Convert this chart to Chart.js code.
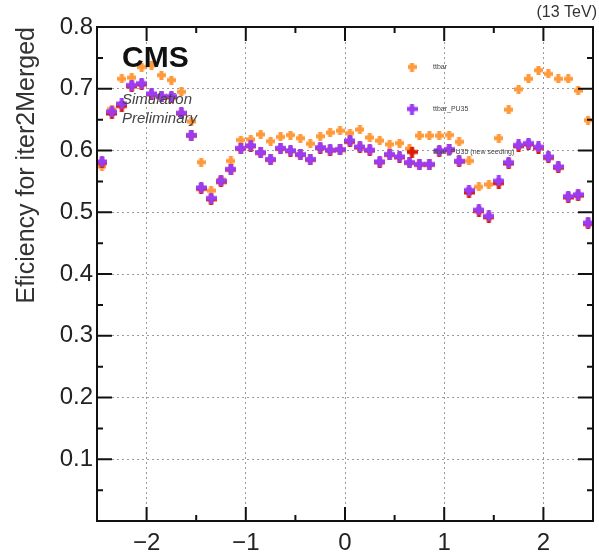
<!DOCTYPE html>
<html>
<head>
<meta charset="utf-8">
<script src="https://cdn.jsdelivr.net/npm/chart.js@4.4.1/dist/chart.umd.min.js"></script>
<style>
  html, body { margin: 0; padding: 0; background: #fff; }
  #wrap { width: 599px; height: 556px; }
</style>
</head>
<body>
<div id="wrap"><canvas id="chart" width="599" height="556"></canvas></div>
<script>
// bin centres in eta
const etaBins = [
  -2.45, -2.35, -2.25, -2.15, -2.05, -1.95, -1.85, -1.75, -1.65, -1.55,
  -1.45, -1.35, -1.25, -1.15, -1.05, -0.95, -0.85, -0.75, -0.65, -0.55,
  -0.45, -0.35, -0.25, -0.15, -0.05, 0.05, 0.15, 0.25, 0.35, 0.45,
  0.55, 0.65, 0.75, 0.85, 0.95, 1.05, 1.15, 1.25, 1.35, 1.45,
  1.55, 1.65, 1.75, 1.85, 1.95, 2.05, 2.15, 2.25, 2.35, 2.45
];

const effOrange = [
  0.574, 0.667, 0.716, 0.718, 0.735, 0.738, 0.722, 0.714, 0.695, 0.647,
  0.581, 0.535, 0.553, 0.583, 0.617, 0.618, 0.626, 0.615, 0.622, 0.625,
  0.620, 0.611, 0.623, 0.629, 0.632, 0.628, 0.634, 0.621, 0.616, 0.610,
  0.612, 0.603, 0.624, 0.624, 0.624, 0.625, 0.614, 0.583, 0.541, 0.545,
  0.620, 0.666, 0.699, 0.716, 0.730, 0.724, 0.716, 0.716, 0.697, 0.649
];

const effPurple = [
  0.582, 0.663, 0.676, 0.706, 0.709, 0.692, 0.688, 0.688, 0.661, 0.625,
  0.540, 0.523, 0.551, 0.570, 0.604, 0.608, 0.597, 0.586, 0.604, 0.600,
  0.594, 0.586, 0.605, 0.601, 0.602, 0.616, 0.606, 0.601, 0.582, 0.594,
  0.590, 0.581, 0.578, 0.578, 0.600, 0.602, 0.583, 0.536, 0.504, 0.494,
  0.551, 0.581, 0.609, 0.612, 0.606, 0.590, 0.574, 0.526, 0.529, 0.483
];

// mostly hidden below the purple markers
const effRed = [
  0.580, 0.660, 0.672, 0.704, 0.707, 0.691, 0.687, 0.686, 0.660, 0.624,
  0.538, 0.521, 0.549, 0.569, 0.603, 0.607, 0.596, 0.585, 0.603, 0.599,
  0.593, 0.585, 0.604, 0.600, 0.601, 0.614, 0.605, 0.600, 0.581, 0.593,
  0.589, 0.580, 0.577, 0.577, 0.599, 0.601, 0.582, 0.532, 0.502, 0.492,
  0.547, 0.579, 0.607, 0.610, 0.604, 0.588, 0.572, 0.524, 0.527, 0.481
];

const legendLabels = ['ttbar', 'ttbar_PU35', 'ttbar_PU35 (new seeding)'];
const xTickValues = [-2, -1, 0, 1, 2];
const yTickValues = [0.1, 0.2, 0.3, 0.4, 0.5, 0.6, 0.7, 0.8];

const orange = '#ff9a3c';
const purple = '#9b3cf5';
const red = '#d81e05';

// ROOT style "full cross" marker
function crossMarker(color, size, arm) {
  const c = document.createElement('canvas');
  c.width = size; c.height = size;
  const g = c.getContext('2d');
  g.fillStyle = color;
  const o = (size - arm) / 2;
  g.fillRect(o, 0, arm, size);
  g.fillRect(0, o, size, arm);
  g.beginPath();
  g.moveTo(size / 2, 1); g.lineTo(size - 1, size / 2);
  g.lineTo(size / 2, size - 1); g.lineTo(1, size / 2);
  g.closePath();
  g.fill();
  return c;
}

const mkOrange = crossMarker(orange, 9, 4);
const mkPurple = crossMarker(purple, 11, 4);
const mkRed = crossMarker(red, 11, 4);

function toPoints(vals) {
  return etaBins.map((x, i) => ({ x: x, y: vals[i] }));
}

const font = 'Liberation Sans, Arial, Helvetica, sans-serif';

const rootFrame = {
  id: 'rootFrame',
  afterDraw(chart) {
    const { ctx, chartArea: a, scales: { x, y } } = chart;
    ctx.save();
    ctx.strokeStyle = '#111';
    ctx.lineWidth = 2;
    ctx.strokeRect(a.left, a.top, a.right - a.left, a.bottom - a.top);
    ctx.beginPath();
    for (let v = -2.5; v <= 2.5001; v += 0.5) {
      const px = x.getPixelForValue(v);
      const len = Math.abs(v - Math.round(v)) < 0.01 ? 14 : 6;
      ctx.moveTo(px, a.bottom); ctx.lineTo(px, a.bottom - len);
      ctx.moveTo(px, a.top); ctx.lineTo(px, a.top + len);
    }
    for (let k = 0; k <= 16; k++) {
      const v = k * 0.05;
      const py = y.getPixelForValue(v);
      const len = k % 2 === 0 ? 15 : 6;
      ctx.moveTo(a.left, py); ctx.lineTo(a.left + len, py);
      ctx.moveTo(a.right, py); ctx.lineTo(a.right - len, py);
    }
    ctx.stroke();
    ctx.restore();
  }
};

const labelsPlugin = {
  id: 'rootLabels',
  afterDraw(chart) {
    const { ctx, chartArea: a } = chart;
    ctx.save();
    ctx.fillStyle = '#111';
    ctx.textBaseline = 'middle';
    ctx.textAlign = 'left';
    ctx.font = 'bold 30px ' + font;
    ctx.fillText('CMS', a.left + 25, 59);
    ctx.fillStyle = '#444';
    ctx.font = 'italic 15px ' + font;
    ctx.fillText('Simulation', a.left + 25, 100);
    ctx.fillText('Preliminary', a.left + 25, 119);
    ctx.fillStyle = '#333';
    ctx.font = '16px ' + font;
    ctx.textAlign = 'right';
    ctx.fillText('(13 TeV)', 597, 13);

    // legend
    const marks = [mkOrange, mkPurple, mkRed];
    const rows = [67, 109, 152];
    ctx.textAlign = 'left';
    ctx.font = '7px ' + font;
    ctx.fillStyle = '#444';
    marks.forEach((m, i) => {
      ctx.drawImage(m, a.left + 315 - m.width / 2, rows[i] - m.height / 2);
      ctx.fillText(legendLabels[i], a.left + 336, rows[i]);
    });
    ctx.restore();
  }
};

new Chart(document.getElementById('chart'), {
  type: 'scatter',
  data: {
    // first dataset is drawn on top
    datasets: [
      { label: legendLabels[1], data: toPoints(effPurple), pointStyle: mkPurple, pointRadius: 5 },
      { label: legendLabels[2], data: toPoints(effRed), pointStyle: mkRed, pointRadius: 5 },
      { label: legendLabels[0], data: toPoints(effOrange), pointStyle: mkOrange, pointRadius: 4 }
    ]
  },
  options: {
    responsive: false,
    animation: false,
    devicePixelRatio: 1,
    layout: { padding: { top: 27, right: 2, left: 0, bottom: 0 } },
    plugins: { legend: { display: false }, tooltip: { enabled: false } },
    scales: {
      x: {
        type: 'linear',
        min: -2.5,
        max: 2.5,
        afterBuildTicks: s => { s.ticks = xTickValues.map(v => ({ value: v })); },
        afterFit: s => { s.height = 35; },
        grid: { color: '#9a9a9a', lineWidth: 1, drawTicks: false },
        border: { display: false, dash: [2, 3] },
        ticks: {
          padding: 8,
          color: '#222',
          font: { family: font, size: 24 },
          callback: v => (v < 0 ? '\u2212' + Math.abs(v) : String(v))
        }
      },
      y: {
        type: 'linear',
        min: 0,
        max: 0.8,
        afterBuildTicks: s => { s.ticks = yTickValues.map(v => ({ value: v })); },
        afterFit: s => { s.width = 97; },
        grid: { color: '#9a9a9a', lineWidth: 1, drawTicks: false },
        border: { display: false, dash: [2, 3] },
        ticks: {
          padding: 4,
          color: '#222',
          font: { family: font, size: 24 },
          callback: v => v.toFixed(1)
        },
        title: {
          display: true,
          text: 'Eficiency for iter2Merged',
          align: 'end',
          color: '#333',
          font: { family: font, size: 25 },
          padding: { top: 12, bottom: 0 }
        }
      }
    }
  },
  plugins: [rootFrame, labelsPlugin]
});
</script>
</body>
</html>
